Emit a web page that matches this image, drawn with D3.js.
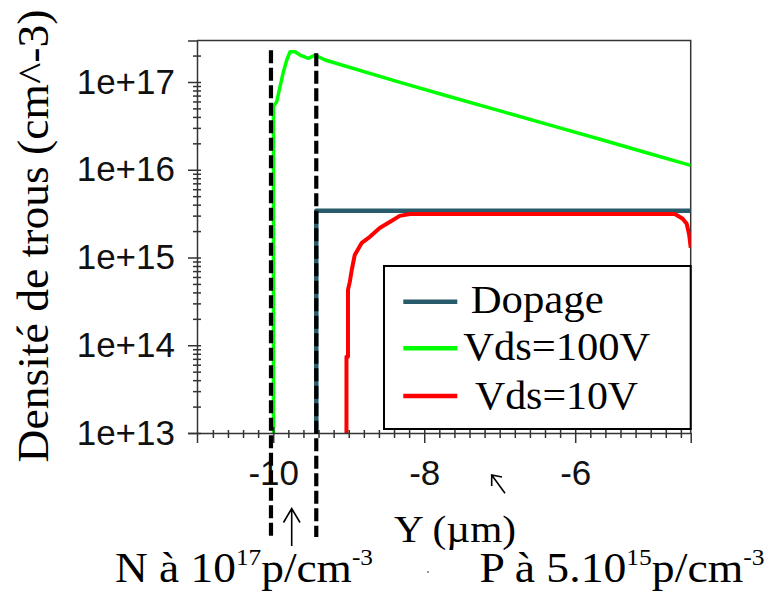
<!DOCTYPE html>
<html><head><meta charset="utf-8">
<script src="https://cdn.jsdelivr.net/npm/d3@7"></script>
<style>body{margin:0;background:#fff;} svg{display:block}</style>
</head><body>
<svg id="chart" width="766" height="594"></svg>
<script>
// ---------- data ----------
const xDomain = [-11.01, -4.47];
const yDomain = [1e13, 2.97e17];
const xTickValues = [-10, -8, -6];
const xTickLabels = ["-10", "-8", "-6"];
const yTickValues = [1e13, 1e14, 1e15, 1e16, 1e17];
const yTickLabels = ["1e+13", "1e+14", "1e+15", "1e+16", "1e+17"];

const dopageX = [-9.43, -9.43, -4.47];
const dopageY = [1e13, 3.4e15, 3.4e15];

const vds100X = [-9.997, -9.997, -9.954, -9.910, -9.865, -9.821, -9.777, -9.711, -9.645, -9.534, -9.446, -9.314, -8.331, -7.669, -7.007, -6.344, -5.682, -5.020, -4.47];
const vds100Y = [1e13, 5.24e16, 5.97e16, 8.83e16, 1.31e17, 1.78e17, 2.21e17, 2.21e17, 2.03e17, 1.86e17, 2.03e17, 1.78e17, 9.95e16, 6.84e16, 4.71e16, 3.24e16, 2.24e16, 1.53e16, 1.12e16];

const vds10X = [-9.03, -9.03, -9.01, -9.01, -8.986, -8.96, -8.92, -8.827, -8.72, -8.59, -8.457, -8.325, -8.19, -4.68, -4.576, -4.523, -4.49, -4.47];
const vds10Y = [1e13, 7.4e13, 7.4e13, 4.28e14, 5.27e14, 7.2e14, 1.07e15, 1.47e15, 1.72e15, 2.17e15, 2.54e15, 2.98e15, 3.13e15, 3.13e15, 2.76e15, 2.42e15, 1.81e15, 1.29e15];

const junctionX = [-10.03, -9.43];   // dashed markers
const seriesNames = ["Dopage", "Vds=100V", "Vds=10V"];
const seriesColors = ["#285b6b", "#00ff00", "#ff0000"];

// ---------- layout ----------
const svg = d3.select("#chart");
const L = 197, T = 40.5, R = 690.7, B = 433;
const x = d3.scaleLinear().domain(xDomain).range([L, R]);
const y = d3.scaleLog().domain(yDomain).range([B, T]);
const axisColor = "#333";

svg.append("rect").attr("width", 766).attr("height", 594).attr("fill", "#fff");

svg.append("defs").append("clipPath").attr("id", "clip")
  .append("rect").attr("x", L).attr("y", T).attr("width", R - L).attr("height", B - T);

// frame (top & right)
svg.append("path").attr("d", `M${L},${T}H${R}V${B}`).attr("fill", "none")
  .attr("stroke", axisColor).attr("stroke-width", 1.5);

// ---------- lines ----------
const line = d3.line().x(d => x(d[0])).y(d => y(d[1]));
const plot = svg.append("g").attr("clip-path", "url(#clip)");
const series = [
  {pts: dopageX.map((v, i) => [v, dopageY[i]]), c: seriesColors[0], w: 4.5},
  {pts: vds100X.map((v, i) => [v, vds100Y[i]]), c: seriesColors[1], w: 3.5},
  {pts: vds10X.map((v, i) => [v, vds10Y[i]]), c: seriesColors[2], w: 4}
];
series.forEach(s => {
  plot.append("path").datum(s.pts).attr("d", line).attr("fill", "none")
    .attr("stroke", s.c).attr("stroke-width", s.w).attr("stroke-linejoin", "round");
});

// ---------- axes ----------
const yAxis = svg.append("g").attr("transform", `translate(${L},0)`)
  .call(d3.axisLeft(y).tickValues(yTickValues).tickFormat((d, i) => yTickLabels[i]).tickSize(9).tickPadding(13));
yAxis.selectAll(".tick line").attr("x1", 4);
const yMinor = [];
[13, 14, 15, 16, 17].forEach(e => { for (let k = 2; k <= 9; k++) { const v = k * Math.pow(10, e); if (v < yDomain[1]) yMinor.push(v); } });
const yMin = svg.append("g").attr("transform", `translate(${L},0)`)
  .call(d3.axisLeft(y).tickValues(yMinor).tickFormat("").tickSize(4));
yMin.selectAll(".tick line").attr("x1", 4);
yMin.select(".domain").remove();

const xAxis = svg.append("g").attr("transform", `translate(0,${B})`)
  .call(d3.axisBottom(x).tickValues(xTickValues).tickFormat((d, i) => xTickLabels[i]).tickSize(10).tickPadding(17));
xAxis.selectAll(".tick line").attr("y1", -6);
const xMinor = d3.range(-54, -22).map(k => k / 5).filter(v => !xTickValues.includes(v));
const xMin = svg.append("g").attr("transform", `translate(0,${B})`)
  .call(d3.axisBottom(x).tickValues(xMinor).tickFormat("").tickSize(5));
xMin.selectAll(".tick line").attr("y1", -3);
xMin.select(".domain").remove();

[yAxis, yMin, xAxis, xMin].forEach(g => {
  g.selectAll(".domain").attr("stroke", axisColor).attr("stroke-width", 1.5);
  g.selectAll(".tick line").attr("stroke", axisColor).attr("stroke-width", 1.5);
});
[yAxis, xAxis].forEach(g => g.selectAll("text")
  .attr("font-family", "'Liberation Sans', Arial, sans-serif").attr("font-size", 35).attr("fill", "#111"));

// ---------- dashed junction markers ----------
junctionX.forEach((v, i) => {
  svg.append("line").attr("x1", x(v)).attr("x2", x(v))
    .attr("y1", y(2.3e17) + i * 3).attr("y2", B + 104)
    .attr("stroke", "#000").attr("stroke-width", 4.2).attr("stroke-dasharray", "13,4.5");
});

// ---------- legend ----------
const serif = "'Liberation Serif', 'DejaVu Serif', serif";
const leg = svg.append("g");
leg.append("rect").attr("x", 384).attr("y", 266).attr("width", R - 384).attr("height", 163)
  .attr("fill", "#fff").attr("stroke", "#000").attr("stroke-width", 2);
const legY = [301.7, 348.3, 396];
const legTextX = [470.7, 463.3, 475];
const legTextB = [313.3, 360, 408.5];
const legLen = [133, 187, 163];
seriesNames.forEach((n, i) => {
  leg.append("line").attr("x1", 403.3).attr("x2", 457.3).attr("y1", legY[i]).attr("y2", legY[i])
    .attr("stroke", seriesColors[i]).attr("stroke-width", 4.5);
  leg.append("text").attr("x", legTextX[i]).attr("y", legTextB[i]).text(n)
    .attr("font-family", serif).attr("font-size", 40).attr("fill", "#000")
    .attr("textLength", legLen[i]).attr("lengthAdjust", "spacingAndGlyphs");
});

// ---------- titles ----------
svg.append("text").attr("transform", "translate(48,236) rotate(-90)")
  .attr("text-anchor", "middle").attr("font-family", serif).attr("font-size", 44).attr("fill", "#000")
  .attr("textLength", 453).attr("lengthAdjust", "spacingAndGlyphs")
  .text("Densité de trous (cm^-3)");

svg.append("text").attr("x", 394).attr("y", 542).attr("font-family", serif).attr("font-size", 38)
  .attr("textLength", 122).attr("lengthAdjust", "spacingAndGlyphs").text("Y (µm)");

function annot(xp, yp, parts, len) {
  const t = svg.append("text").attr("x", xp).attr("y", yp).attr("font-family", serif).attr("font-size", 43).attr("fill", "#000")
    .attr("textLength", len).attr("lengthAdjust", "spacingAndGlyphs");
  parts.forEach(p => {
    if (p.sup) t.append("tspan").attr("font-size", 24).attr("dy", -17).text(p.s);
    else t.append("tspan").attr("dy", p.back ? 17 : 0).text(p.s);
  });
  return t;
}
annot(115, 582, [{s: "N à 10"}, {s: "17", sup: true}, {s: "p/cm", back: true}, {s: "-3", sup: true}], 258);
annot(479.5, 582, [{s: "P à 5.10"}, {s: "15", sup: true}, {s: "p/cm", back: true}, {s: "-3", sup: true}], 285);

// arrows
const ar = svg.append("g").attr("stroke", "#000").attr("stroke-width", 1.6).attr("fill", "none");
ar.append("path").attr("d", "M291.7,546V508.5M283.5,522.5L291.7,508.5L300,522.5");
ar.append("path").attr("d", "M505,493.3L491.7,475M491.7,486L491.7,475L502,477");
svg.append("circle").attr("cx", 428).attr("cy", 572).attr("r", 1).attr("fill", "#777");
</script>
</body></html>
